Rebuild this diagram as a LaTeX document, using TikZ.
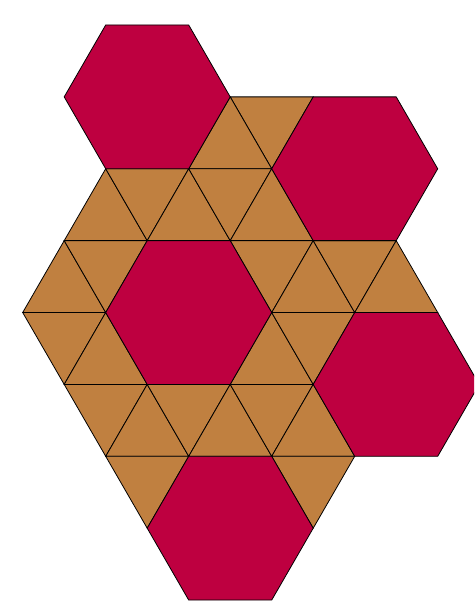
\documentclass[tikz,border=0pt]{standalone}
\definecolor{hexred}{RGB}{190,0,64}
\definecolor{tribrown}{RGB}{192,128,64}
\tikzset{
  hexa/.style={fill=hexred,draw=black,line width=0.8pt,line join=miter},
  tria/.style={fill=tribrown,draw=black,line width=0.8pt,line join=miter}
}
\begin{document}
\begin{tikzpicture}[x=41.5pt,y=-71.88pt]
\path[use as bounding box] (-0.547,-0.3478) rectangle (10.875,8.041);
\clip (-0.547,-0.3478) rectangle (10.875,8.041);
% triangles
\foreach \a/\b/\c/\d/\e/\f in {
  5/1/7/1/6/2, 5/1/4/2/6/2,
  1/3/2/2/3/3, 2/2/4/2/3/3, 3/3/4/2/5/3, 4/2/6/2/5/3, 5/3/6/2/7/3,
  0/4/1/3/2/4, 1/3/3/3/2/4, 5/3/7/3/6/4, 6/4/7/3/8/4, 7/3/9/3/8/4, 8/4/9/3/10/4,
  0/4/2/4/1/5, 1/5/2/4/3/5, 5/5/6/4/7/5, 6/4/8/4/7/5,
  1/5/3/5/2/6, 2/6/3/5/4/6, 3/5/5/5/4/6, 4/6/5/5/6/6, 5/5/7/5/6/6, 6/6/7/5/8/6,
  2/6/4/6/3/7, 6/6/8/6/7/7}
  {\draw[tria] (\a,\b) -- (\c,\d) -- (\e,\f) -- cycle;}
% hexagons
\draw[hexa] (2,0) -- (4,0) -- (5,1) -- (4,2) -- (2,2) -- (1,1) -- cycle;
\draw[hexa] (7,1) -- (9,1) -- (10,2) -- (9,3) -- (7,3) -- (6,2) -- cycle;
\draw[hexa] (3,3) -- (5,3) -- (6,4) -- (5,5) -- (3,5) -- (2,4) -- cycle;
\draw[hexa] (8,4) -- (10,4) -- (11,5) -- (10,6) -- (8,6) -- (7,5) -- cycle;
\draw[hexa] (4,6) -- (6,6) -- (7,7) -- (6,8) -- (4,8) -- (3,7) -- cycle;
\end{tikzpicture}
\end{document}
